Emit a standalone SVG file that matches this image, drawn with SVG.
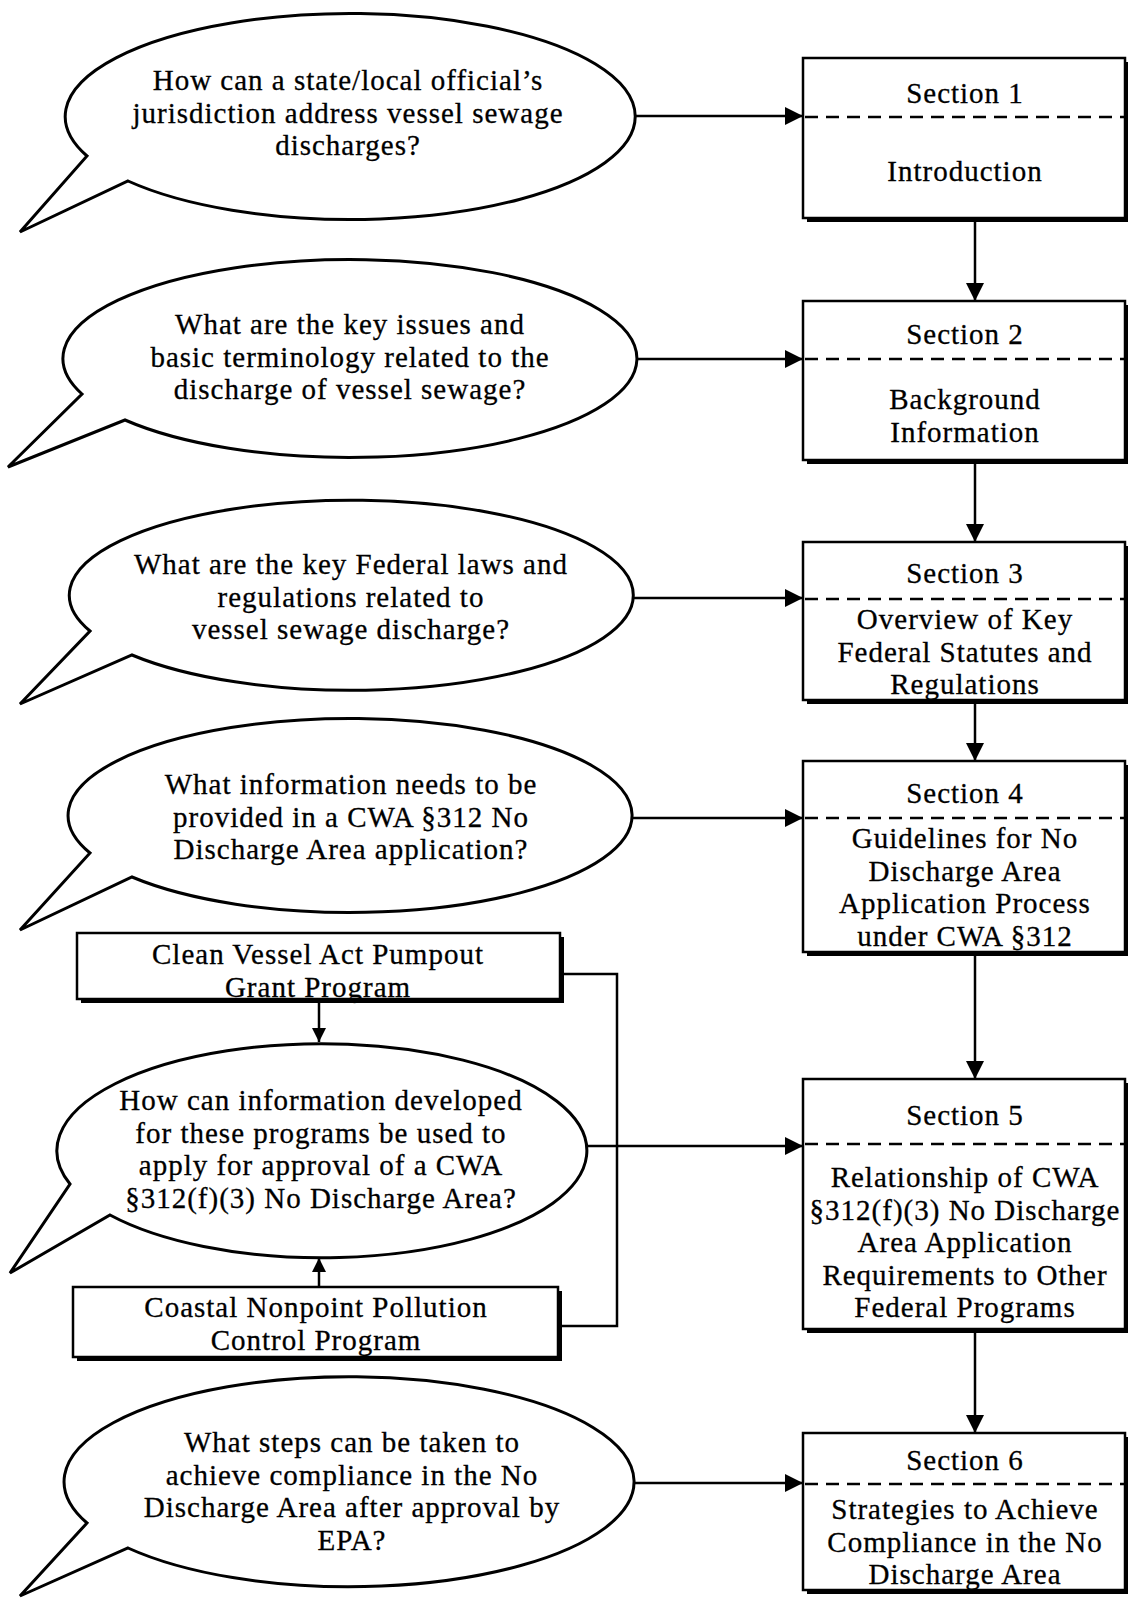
<svg xmlns="http://www.w3.org/2000/svg" width="1128" height="1599" viewBox="0 0 1128 1599">
<style>
text{font-family:"Liberation Serif","Times New Roman",serif;font-size:29px;letter-spacing:1px;fill:#000;stroke:#000;stroke-width:0.3;text-anchor:middle}
.bub{fill:#fff;stroke:#000;stroke-width:3;stroke-linejoin:miter}
.box{fill:#fff;stroke:#000;stroke-width:2.5}
.sh{fill:#000}
.dash{stroke:#000;stroke-width:2.5;stroke-dasharray:13 8;fill:none}
.ln{stroke:#000;stroke-width:2.5;fill:none}
</style>
<defs>
<marker id="ah" viewBox="0 0 18 18" refX="18" refY="9" markerWidth="18" markerHeight="18" orient="auto" markerUnits="userSpaceOnUse"><path d="M0,0 L18,9 L0,18 z" fill="#000"/></marker>
<marker id="as" viewBox="0 0 14 14" refX="14" refY="7" markerWidth="14" markerHeight="14" orient="auto" markerUnits="userSpaceOnUse"><path d="M0,0 L14,7 L0,14 z" fill="#000"/></marker>
</defs>
<g id="connectors">
<line class="ln" x1="633" y1="116" x2="803" y2="116" marker-end="url(#ah)"/>
<line class="ln" x1="637" y1="359" x2="803" y2="359" marker-end="url(#ah)"/>
<line class="ln" x1="633" y1="598" x2="803" y2="598" marker-end="url(#ah)"/>
<line class="ln" x1="633" y1="818" x2="803" y2="818" marker-end="url(#ah)"/>
<line class="ln" x1="586" y1="1146" x2="803" y2="1146" marker-end="url(#ah)"/>
<line class="ln" x1="633" y1="1483" x2="803" y2="1483" marker-end="url(#ah)"/>
<line class="ln" x1="975" y1="222" x2="975" y2="301" marker-end="url(#ah)"/>
<line class="ln" x1="975" y1="464" x2="975" y2="542" marker-end="url(#ah)"/>
<line class="ln" x1="975" y1="704" x2="975" y2="761" marker-end="url(#ah)"/>
<line class="ln" x1="975" y1="956" x2="975" y2="1079" marker-end="url(#ah)"/>
<line class="ln" x1="975" y1="1333" x2="975" y2="1433" marker-end="url(#ah)"/>
<polyline class="ln" points="564,974 617,974 617,1326 561,1326"/>
<line class="ln" x1="319" y1="1003" x2="319" y2="1042" marker-end="url(#as)"/>
<line class="ln" x1="319" y1="1287" x2="319" y2="1258" marker-end="url(#as)"/>
</g>
<g id="q1">
<path class="bub" d="M128,181 A285,103 0 1 0 87,156 L20,232 Z"/>
<text x="348" y="90">How can a state/local official’s</text>
<text x="348" y="122.5">jurisdiction address vessel sewage</text>
<text x="348" y="155">discharges?</text>
</g>
<g id="q2">
<path class="bub" d="M125,420 A287,99 0 1 0 82,394 L8,467 Z"/>
<text x="350" y="334">What are the key issues and</text>
<text x="350" y="366.5">basic terminology related to the</text>
<text x="350" y="399">discharge of vessel sewage?</text>
</g>
<g id="q3">
<path class="bub" d="M132,655 A282,95 0 1 0 90,631 L20,704 Z"/>
<text x="351" y="574">What are the key Federal laws and</text>
<text x="351" y="606.5">regulations related to</text>
<text x="351" y="639">vessel sewage discharge?</text>
</g>
<g id="q4">
<path class="bub" d="M132,877 A282,97 0 1 0 90,853 L20,930 Z"/>
<text x="351" y="794">What information needs to be</text>
<text x="351" y="826.5">provided in a CWA §312 No</text>
<text x="351" y="859">Discharge Area application?</text>
</g>
<g id="q5">
<path class="bub" d="M110,1215 A265,107 0 1 0 70,1184 L10,1273 Z"/>
<text x="321" y="1110">How can information developed</text>
<text x="321" y="1142.5">for these programs be used to</text>
<text x="321" y="1175">apply for approval of a CWA</text>
<text x="321" y="1207.5">§312(f)(3) No Discharge Area?</text>
</g>
<g id="q6">
<path class="bub" d="M128,1548 A285,105 0 1 0 87,1523 L20,1596 Z"/>
<text x="352" y="1452">What steps can be taken to</text>
<text x="352" y="1484.5">achieve compliance in the No</text>
<text x="352" y="1517">Discharge Area after approval by</text>
<text x="352" y="1549.5">EPA?</text>
</g>
<g id="cva">
<rect class="sh" x="81" y="937" width="483" height="66"/>
<rect class="box" x="77" y="933" width="483" height="66"/>
<text x="318" y="964">Clean Vessel Act Pumpout</text>
<text x="318" y="996.5">Grant Program</text>
</g>
<g id="czm">
<rect class="sh" x="77" y="1291" width="485" height="70"/>
<rect class="box" x="73" y="1287" width="485" height="70"/>
<text x="316" y="1317">Coastal Nonpoint Pollution</text>
<text x="316" y="1349.5">Control Program</text>
</g>
<g id="s1">
<rect class="sh" x="807" y="62" width="322" height="160"/>
<rect class="box" x="803" y="58" width="322" height="160"/>
<line class="dash" x1="805" y1="117" x2="1125" y2="117"/>
<text x="965" y="103">Section 1</text>
<text x="965" y="181">Introduction</text>
</g>
<g id="s2">
<rect class="sh" x="807" y="305" width="322" height="159"/>
<rect class="box" x="803" y="301" width="322" height="159"/>
<line class="dash" x1="805" y1="359" x2="1125" y2="359"/>
<text x="965" y="344">Section 2</text>
<text x="965" y="409">Background</text>
<text x="965" y="441.5">Information</text>
</g>
<g id="s3">
<rect class="sh" x="807" y="546" width="322" height="158"/>
<rect class="box" x="803" y="542" width="322" height="158"/>
<line class="dash" x1="805" y1="599" x2="1125" y2="599"/>
<text x="965" y="583">Section 3</text>
<text x="965" y="629">Overview of Key</text>
<text x="965" y="661.5">Federal Statutes and</text>
<text x="965" y="694">Regulations</text>
</g>
<g id="s4">
<rect class="sh" x="807" y="765" width="322" height="191"/>
<rect class="box" x="803" y="761" width="322" height="191"/>
<line class="dash" x1="805" y1="818" x2="1125" y2="818"/>
<text x="965" y="803">Section 4</text>
<text x="965" y="848">Guidelines for No</text>
<text x="965" y="880.5">Discharge Area</text>
<text x="965" y="913">Application Process</text>
<text x="965" y="945.5">under CWA §312</text>
</g>
<g id="s5">
<rect class="sh" x="807" y="1083" width="322" height="250"/>
<rect class="box" x="803" y="1079" width="322" height="250"/>
<line class="dash" x1="805" y1="1144" x2="1125" y2="1144"/>
<text x="965" y="1125">Section 5</text>
<text x="965" y="1187">Relationship of CWA</text>
<text x="965" y="1219.5">§312(f)(3) No Discharge</text>
<text x="965" y="1252">Area Application</text>
<text x="965" y="1284.5">Requirements to Other</text>
<text x="965" y="1317">Federal Programs</text>
</g>
<g id="s6">
<rect class="sh" x="807" y="1437" width="322" height="157"/>
<rect class="box" x="803" y="1433" width="322" height="157"/>
<line class="dash" x1="805" y1="1484" x2="1125" y2="1484"/>
<text x="965" y="1470">Section 6</text>
<text x="965" y="1519">Strategies to Achieve</text>
<text x="965" y="1551.5">Compliance in the No</text>
<text x="965" y="1584">Discharge Area</text>
</g>
</svg>
